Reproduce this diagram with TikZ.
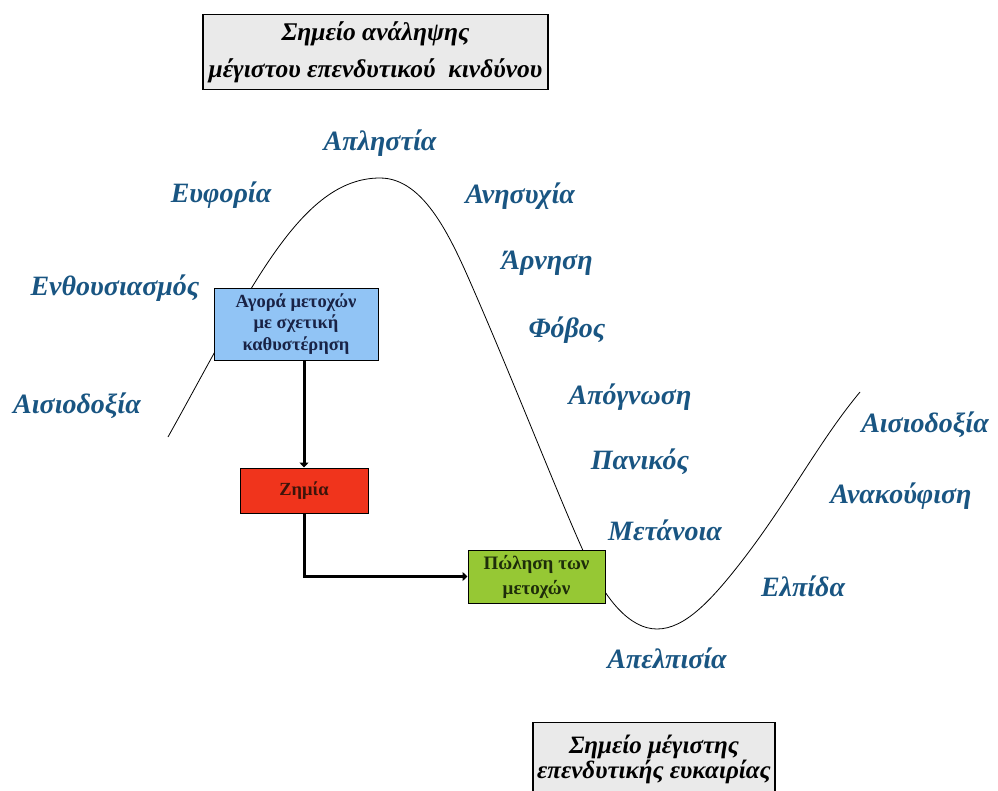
\documentclass[tikz,border=0pt]{standalone}
\usepackage{fontspec}
\setmainfont{Liberation Serif}
\usetikzlibrary{arrows.meta}

\definecolor{feelblue}{RGB}{25,85,130}
\definecolor{pointgray}{RGB}{234,234,234}
\definecolor{buyblue}{RGB}{145,196,245}
\definecolor{lossred}{RGB}{240,52,28}
\definecolor{sellgreen}{RGB}{150,200,52}

\begin{document}
\begin{tikzpicture}[x=1pt,y=-1pt,
	feeling/.style={text=feelblue,font=\fontsize{28}{32}\selectfont\bfseries\itshape},
	point/.style={draw=black,line width=1.3pt,fill=pointgray,align=center,inner sep=0pt,
		font=\fontsize{25.5}{37}\selectfont\bfseries\itshape},
	action/.style={draw=black,line width=1pt,align=center,inner sep=0pt,
		font=\fontsize{18.5}{21.7}\selectfont\bfseries},
	flow/.style={line width=3pt,-{Triangle[length=5pt,width=9pt]}}]
	\fill[white] (0,0) rectangle (998,790);
	\useasboundingbox (0,0) rectangle (998,790);

	% the cycle of the market
	\draw[line width=0.8pt] (168,437) .. controls (250,290) and (300,178) .. (380,178)
		.. controls (425,178) and (452,240) .. (475,293)
		.. controls (515,385) and (560,500) .. (585,555)
		.. controls (605,600) and (630,629) .. (657,629)
		.. controls (685,629) and (712,600) .. (745,557)
		.. controls (790,498) and (820,440) .. (860,392);

	\node[point,minimum width=345,minimum height=75] (kindynos) at (375.5,52) {Σημείο ανάληψης\\μέγιστου επενδυτικού\ \ κινδύνου};
	\node[point,anchor=north,minimum width=242,minimum height=74,font=\fontsize{25}{25}\selectfont\bfseries\itshape] (eukairia) at (654,722) {Σημείο μέγιστης\\επενδυτικής ευκαιρίας};

	\node[feeling] (aisiodoxiaA) at (77,406) {Αισιοδοξία};
	\node[feeling] (enthousiasmos) at (115,288) {Ενθουσιασμός};
	\node[feeling] (euforia) at (221,195) {Ευφορία};
	\node[feeling] (apliestia) at (380,143) {Απληστία};
	\node[feeling] (anisyxia) at (520,196) {Ανησυχία};
	\node[feeling] (arnisi) at (547,263) {Άρνηση};
	\node[feeling] (fovos) at (567,330) {Φόβος};
	\node[feeling] (apognosi) at (630,397) {Απόγνωση};
	\node[feeling] (panikos) at (640,462) {Πανικός};
	\node[feeling] (metanoia) at (665,530) {Μετάνοια};
	\node[feeling] (apelpisia) at (667,658) {Απελπισία};
	\node[feeling] (elpida) at (803,586) {Ελπίδα};
	\node[feeling] (anakoufisi) at (901,496) {Ανακούφιση};
	\node[feeling] (aisiodoxiaB) at (925,425) {Αισιοδοξία};

	\node[action,fill=buyblue,text={rgb,255:red,25;green,35;blue,70},minimum width=164,minimum height=72] (agora) at (296,324) {Αγορά μετοχών\\με σχετική\\καθυστέρηση};
	\node[action,fill=lossred,text={rgb,255:red,60;green,20;blue,10},minimum width=128,minimum height=45] (zimia) at (304,490.5) {Ζημία};
	\node[action,fill=sellgreen,text={rgb,255:red,30;green,45;blue,10},minimum width=137,minimum height=53,font=\fontsize{19}{25}\selectfont\bfseries] (polisi) at (536.5,576.5) {Πώληση των\\μετοχών};

	\draw[flow] (agora.south -| zimia.north) -- (zimia.north);
	\draw[flow] (zimia.south) |- (polisi.west);
\end{tikzpicture}
\end{document}
